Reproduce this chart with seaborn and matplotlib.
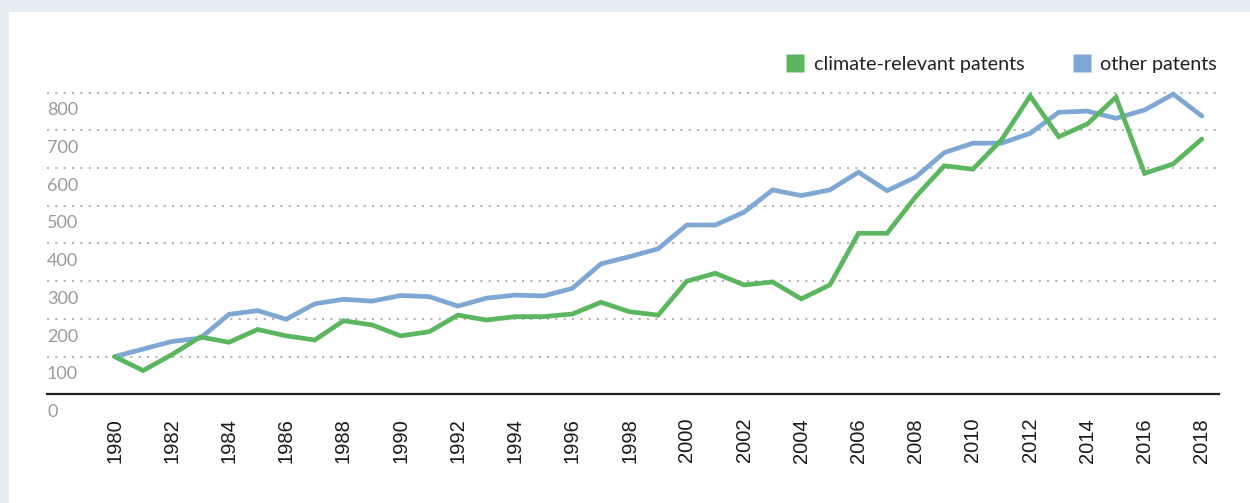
import matplotlib
matplotlib.use("Agg")
import matplotlib.pyplot as plt
import matplotlib.transforms as mtransforms
from matplotlib.patches import Rectangle
from matplotlib.lines import Line2D
import numpy as np
import pandas as pd
import seaborn as sns

years = list(range(1980, 2019))
climate = [100, 63, 105, 152, 138, 172, 155, 144, 195, 184,
           155, 166, 210, 197, 206, 206, 213, 244, 219, 210,
           300, 321, 290, 298, 253, 290, 427, 427, 524, 606,
           597, 675, 791, 683, 717, 788, 586, 611, 677]
other = [100, 120, 140, 149, 212, 222, 199, 240, 252, 247,
         262, 259, 234, 255, 263, 261, 281, 346, 365, 386,
         449, 449, 483, 542, 527, 542, 589, 540, 576, 641,
         666, 666, 692, 748, 751, 732, 754, 796, 738]
series_names = ["climate-relevant patents", "other patents"]
y_ticks = [0, 100, 200, 300, 400, 500, 600, 700, 800]
x_ticks = list(range(1980, 2019, 2))

GREEN = "#5cb660"
BLUE = "#7ea8d3"
BAND = "#e5eef2"

df = pd.DataFrame({
    "year": years * 2,
    "value": climate + other,
    "series": [series_names[0]] * len(years) + [series_names[1]] * len(years),
})

sns.set_theme(style="white")
plt.rcParams["font.family"] = ["Lato", "DejaVu Sans"]

W, H = 1250, 503
fig = plt.figure(figsize=(W / 100, H / 100), dpi=100)
fig.patch.set_facecolor("white")

# light frame band along the top and left edges
fig.patches.append(Rectangle((0, 1 - 12 / H), 1, 12 / H, transform=fig.transFigure,
                             facecolor=BAND, edgecolor="none", zorder=0))
fig.patches.append(Rectangle((0, 0), 9 / W, 1, transform=fig.transFigure,
                             facecolor=BAND, edgecolor="none", zorder=0))

ax_left, ax_right = 47 / W, 1219 / W
ax_bottom, ax_top = (H - 394.3) / H, (H - 73.8) / H
ax = fig.add_axes([ax_left, ax_bottom, ax_right - ax_left, ax_top - ax_bottom])
ax.set_facecolor("none")

sns.lineplot(data=df, x="year", y="value", hue="series",
             palette={series_names[0]: GREEN, series_names[1]: BLUE},
             hue_order=[series_names[1], series_names[0]],
             linewidth=3.4, ax=ax, legend=False)
for ln in ax.lines:
    ln.set_solid_joinstyle("miter")
    ln.set_solid_capstyle("round")

ax.set_xlim(1977.64, 2018.6)
ax.set_ylim(0, 850)

for s in ["top", "right", "left"]:
    ax.spines[s].set_visible(False)
ax.spines["bottom"].set_color("#222222")
ax.spines["bottom"].set_linewidth(1.6)

ax.set_yticks(y_ticks)
ax.set_yticklabels([])
ax.tick_params(axis="y", length=0)
ax.yaxis.grid(True, color="#b3b3b3", linestyle=(0, (1, 3)), linewidth=1.5)
ax.set_axisbelow(True)

# value labels sit just under their gridlines at the left edge
offset = mtransforms.ScaledTranslation(0, -7 / 72, fig.dpi_scale_trans)
trans = mtransforms.blended_transform_factory(ax.transAxes, ax.transData) + offset
for v in y_ticks:
    ax.text(0.0, v, str(v), transform=trans, ha="left", va="top",
            fontsize=13, color="#9a9a9a")

ax.set_xticks(x_ticks)
ax.set_xticklabels([str(x) for x in x_ticks], rotation=90,
                   fontsize=14.5, color="#1a1a1a", family="Liberation Sans")
ax.tick_params(axis="x", length=0, pad=17)
ax.set_xlabel("")
ax.set_ylabel("")

handles = [Line2D([], [], linestyle="none", marker="s", markersize=13.5,
                  markerfacecolor=GREEN, markeredgecolor="none"),
           Line2D([], [], linestyle="none", marker="s", markersize=13.5,
                  markerfacecolor=BLUE, markeredgecolor="none")]
fig.legend(handles, series_names, loc="upper right",
           bbox_to_anchor=(1225 / W, 1 - 48 / H), ncol=2, frameon=False,
           fontsize=14.2, handlelength=1.0, handletextpad=0.45,
           columnspacing=2.4, borderaxespad=0, labelcolor="#222222")

fig.savefig("out.png", dpi=100, facecolor="white")
